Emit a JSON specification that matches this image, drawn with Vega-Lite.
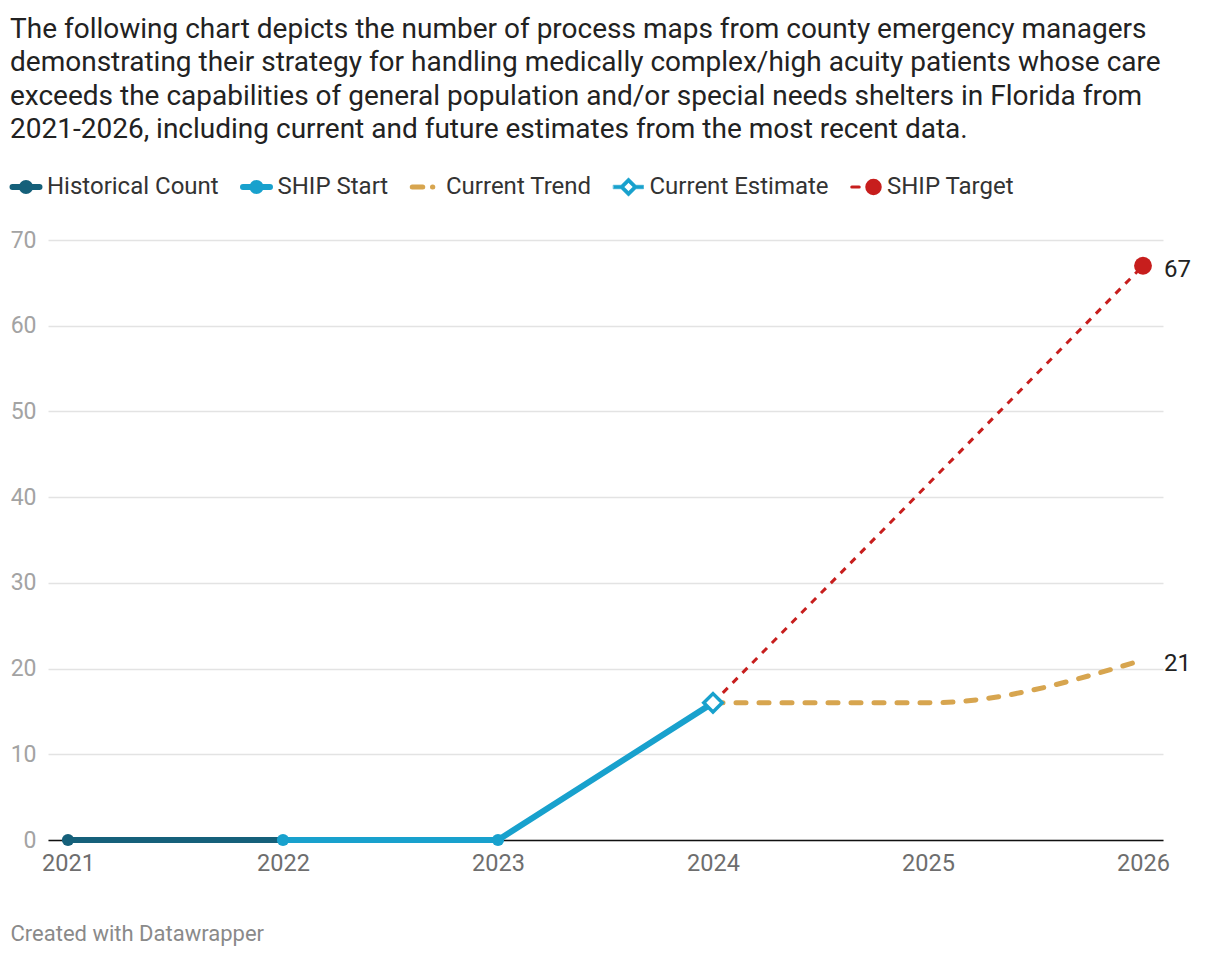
{
  "$schema": "https://vega.github.io/schema/vega-lite/v6.json",
  "width": 1115,
  "height": 600,
  "autosize": {"type": "none"},
  "padding": {"left": 48, "top": 240, "right": 57, "bottom": 116},
  "background": "white",
  "config": {
    "font": "Roboto",
    "view": {"stroke": null}
  },
  "title": {
    "text": [
      "The following chart depicts the number of process maps from county emergency managers",
      "demonstrating their strategy for handling medically complex/high acuity patients whose care",
      "exceeds the capabilities of general population and/or special needs shelters in Florida from",
      "2021-2026, including current and future estimates from the most recent data."
    ],
    "anchor": "start",
    "frame": "group",
    "dx": -38,
    "offset": 31,
    "fontSize": 28,
    "lineHeight": 33.5,
    "fontWeight": "normal",
    "color": "#222222",
    "font": "Roboto"
  },
  "data": {
    "values": [
      {"series": "Historical Count", "year": 2021, "value": 0},
      {"series": "Historical Count", "year": 2022, "value": 0},
      {"series": "SHIP Start", "year": 2022, "value": 0},
      {"series": "SHIP Start", "year": 2023, "value": 0},
      {"series": "SHIP Start", "year": 2024, "value": 16},
      {"series": "Current Trend", "year": 2024, "value": 16},
      {"series": "Current Trend", "year": 2025, "value": 16},
      {"series": "Current Trend", "year": 2026, "value": 21},
      {"series": "Current Estimate", "year": 2024, "value": 16},
      {"series": "SHIP Target", "year": 2024, "value": 16},
      {"series": "SHIP Target", "year": 2026, "value": 67}
    ]
  },
  "encoding": {
    "x": {
      "field": "year",
      "type": "quantitative",
      "scale": {"domain": [2020.907, 2026.093], "nice": false, "zero": false},
      "axis": {
        "values": [2021, 2022, 2023, 2024, 2025, 2026],
        "format": "d",
        "grid": false,
        "ticks": false,
        "domain": true,
        "domainColor": "#111111",
        "domainWidth": 1.5,
        "labelFontSize": 23.5,
        "labelColor": "#6e6e6e",
        "labelPadding": 11,
        "labelFlush": false,
        "title": "Created with Datawrapper",
        "titleAnchor": "start",
        "titleAlign": "left",
        "titleX": -38,
        "titleY": 100,
        "titleBaseline": "alphabetic",
        "titleFontSize": 22,
        "titleFontWeight": "normal",
        "titleColor": "#8a8a8a"
      }
    },
    "y": {
      "field": "value",
      "type": "quantitative",
      "scale": {"domain": [0, 70], "nice": false},
      "axis": {
        "values": [0, 10, 20, 30, 40, 50, 60, 70],
        "domain": false,
        "ticks": false,
        "grid": true,
        "gridColor": "#e3e3e3",
        "gridWidth": 1.5,
        "labelFontSize": 23,
        "labelColor": "#a3a3a3",
        "labelPadding": 12,
        "title": null
      }
    },
    "color": {
      "field": "series",
      "type": "nominal",
      "scale": {
        "domain": ["Historical Count", "SHIP Start", "Current Trend", "Current Estimate", "SHIP Target"],
        "range": ["#15607a", "#18a1cd", "#d7a54f", "#18a1cd", "#c71e1d"]
      },
      "legend": {
        "orient": "none",
        "legendX": -34,
        "legendY": -65,
        "direction": "horizontal",
        "title": null,
        "padding": 0,
        "symbolSize": 900,
        "labelFontSize": 24,
        "labelColor": "#333333",
        "labelFont": "Roboto",
        "labelOffset": 9,
        "labelLimit": 500,
        "columnPadding": 20.5,
        "symbolLimit": 0,
        "encode": {
          "symbols": {
            "update": {
              "shape": {"signal": "(datum.value === 'Historical Count' || datum.value === 'SHIP Start') ? 'M-0.9,0H-0.27M0.27,0H0.9M0.27,0A0.27,0.27 0 1,1 -0.27,0A0.27,0.27 0 1,1 0.27,0Z' : datum.value === 'Current Trend' ? 'M-0.85,0H-0.15M0.5,0H0.52' : datum.value === 'Current Estimate' ? 'M-1,-0.12H-0.5L0,-0.62L0.5,-0.12H1V0.12H0.5L0,0.62L-0.5,0.12H-1ZM0,-0.29L-0.29,0L0,0.29L0.29,0Z' : 'M-0.95,0H-0.45M0.95,0A0.45,0.45 0 1,1 0.05,0A0.45,0.45 0 1,1 0.95,0Z'"},
              "stroke": {"signal": "scale('color', datum.value)"},
              "strokeWidth": {"signal": "(datum.value === 'Historical Count' || datum.value === 'SHIP Start') ? 6 : datum.value === 'Current Trend' ? 5 : datum.value === 'Current Estimate' ? 0.5 : 3"},
              "strokeCap": {"value": "round"},
              "strokeJoin": {"value": "round"},
              "strokeDash": {"value": []},
              "opacity": {"value": 1}
            }
          }
        }
      }
    }
  },
  "layer": [
    {
      "transform": [{"filter": "datum.series === 'Historical Count' || datum.series === 'SHIP Start'"}],
      "mark": {"type": "line", "strokeWidth": 6, "strokeCap": "round"},
      "encoding": {"detail": {"field": "series"}}
    },
    {
      "transform": [{"filter": "datum.series === 'SHIP Target'"}],
      "mark": {"type": "line", "strokeWidth": 3, "strokeDash": [7, 7]},
      "encoding": {}
    },
    {
      "transform": [{"filter": "datum.series === 'Current Trend'"}],
      "mark": {"type": "line", "strokeWidth": 5, "strokeDash": [10, 13], "strokeCap": "round", "interpolate": "monotone"},
      "encoding": {}
    },
    {
      "transform": [{"filter": "(datum.series === 'Historical Count' && datum.year === 2021) || (datum.series === 'SHIP Start' && datum.year < 2024)"}],
      "mark": {"type": "point", "filled": true, "opacity": 1, "size": 150, "shape": "circle"}
    },
    {
      "transform": [{"filter": "datum.series === 'SHIP Target' && datum.year === 2026"}],
      "mark": {"type": "point", "filled": true, "opacity": 1, "size": 320, "shape": "circle"}
    },
    {
      "transform": [{"filter": "datum.series === 'Current Estimate'"}],
      "mark": {"type": "point", "filled": false, "fill": "white", "fillOpacity": 1, "opacity": 1, "size": 340, "shape": "diamond", "strokeWidth": 3.5}
    },
    {
      "transform": [{"filter": "datum.year === 2026"}],
      "mark": {"type": "text", "align": "left", "baseline": "middle", "dx": 21, "dy": 4, "fontSize": 24, "color": "#222222"},
      "encoding": {
        "text": {"field": "value", "type": "quantitative"},
        "color": {"value": "#222222"}
      }
    }
  ]
}
